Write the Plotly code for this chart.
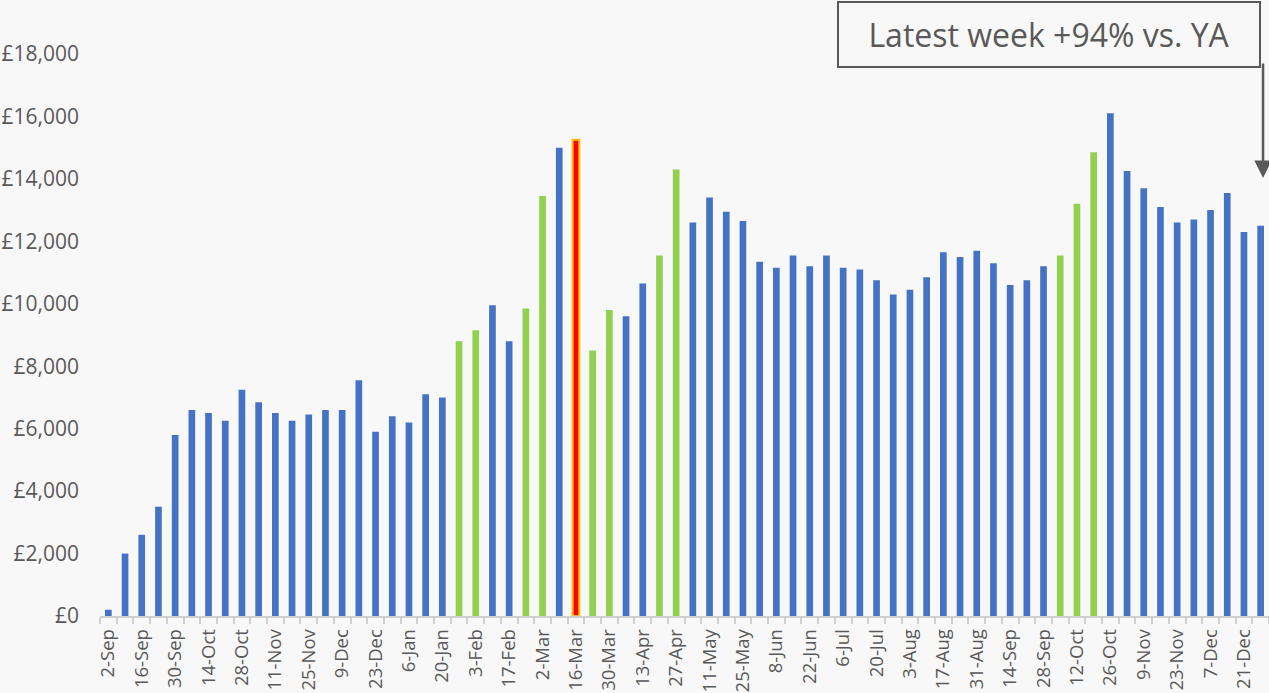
import plotly.graph_objects as go

weeks = [
    "2-Sep", "9-Sep", "16-Sep", "23-Sep", "30-Sep", "7-Oct", "14-Oct", "21-Oct", "28-Oct",
    "4-Nov", "11-Nov", "18-Nov", "25-Nov", "2-Dec", "9-Dec", "16-Dec", "23-Dec", "30-Dec",
    "6-Jan", "13-Jan", "20-Jan", "27-Jan", "3-Feb", "10-Feb", "17-Feb", "24-Feb",
    "2-Mar", "9-Mar", "16-Mar", "23-Mar", "30-Mar", "6-Apr", "13-Apr", "20-Apr", "27-Apr",
    "4-May", "11-May", "18-May", "25-May", "1-Jun", "8-Jun", "15-Jun", "22-Jun", "29-Jun",
    "6-Jul", "13-Jul", "20-Jul", "27-Jul", "3-Aug", "10-Aug", "17-Aug", "24-Aug", "31-Aug",
    "7-Sep", "14-Sep", "21-Sep", "28-Sep", "5-Oct", "12-Oct", "19-Oct", "26-Oct",
    "2-Nov", "9-Nov", "16-Nov", "23-Nov", "30-Nov", "7-Dec", "14-Dec", "21-Dec", "28-Dec",
]

sales = [
    200, 2000, 2600, 3500, 5800, 6600, 6500, 6250, 7250,
    6850, 6500, 6250, 6450, 6600, 6600, 7550, 5900, 6400,
    6200, 7100, 7000, 8800, 9150, 9950, 8800, 9850,
    13450, 15000, 15250, 8500, 9800, 9600, 10650, 11550, 14300,
    12600, 13400, 12950, 12650, 11350, 11150, 11550, 11200, 11550,
    11150, 11100, 10750, 10300, 10450, 10850, 11650, 11500, 11700,
    11300, 10600, 10750, 11200, 11550, 13200, 14850, 16100,
    14250, 13700, 13100, 12600, 12700, 13000, 13550, 12300, 12500,
]

# b = regular week, g = highlighted (green) week, r = key week (red)
week_type = [
    "b", "b", "b", "b", "b", "b", "b", "b", "b",
    "b", "b", "b", "b", "b", "b", "b", "b", "b",
    "b", "b", "b", "g", "g", "b", "b", "g",
    "g", "b", "r", "g", "g", "b", "b", "g", "g",
    "b", "b", "b", "b", "b", "b", "b", "b", "b",
    "b", "b", "b", "b", "b", "b", "b", "b", "b",
    "b", "b", "b", "b", "g", "g", "g", "b",
    "b", "b", "b", "b", "b", "b", "b", "b", "b",
]

tick_labels = [w if i % 2 == 0 else "" for i, w in enumerate(weeks)]
y_tick_values = [0, 2000, 4000, 6000, 8000, 10000, 12000, 14000, 16000, 18000]
y_tick_labels = ["£0", "£2,000", "£4,000", "£6,000", "£8,000", "£10,000",
                 "£12,000", "£14,000", "£16,000", "£18,000"]
annotation_text = "Latest week +94% vs. YA"

fill_map = {"b": "#4472C4", "g": "#92D050", "r": "#FF0000"}
line_map = {"b": "#4472C4", "g": "#92D050", "r": "#FFC000"}
lw_map = {"b": 0, "g": 0, "r": 2}

GREY = "#595959"
FONT = "Open Sans"

fig = go.Figure(
    go.Bar(
        x=weeks,
        y=sales,
        marker=dict(
            color=[fill_map[t] for t in week_type],
            line=dict(color=[line_map[t] for t in week_type],
                      width=[lw_map[t] for t in week_type]),
        ),
        hovertemplate="%{x}: £%{y:,}<extra></extra>",
    )
)

fig.update_layout(
    width=1269,
    height=693,
    margin=dict(l=100, r=0, t=54, b=77, autoexpand=False),
    paper_bgcolor="#f8f8f8",
    plot_bgcolor="rgba(0,0,0,0)",
    bargap=0.6,
    showlegend=False,
    font=dict(family=FONT, color=GREY, size=21),
)

fig.update_xaxes(
    type="category",
    tickmode="array",
    tickvals=weeks,
    ticktext=tick_labels,
    tickangle=-90,
    tickson="boundaries",
    ticks="outside",
    ticklen=6,
    tickwidth=1.5,
    tickcolor="#d0d0d0",
    showline=True,
    linecolor="#d0d0d0",
    linewidth=1.5,
    showgrid=False,
    automargin=False,
    ticklabelstandoff=4,
    tickfont=dict(family=FONT, size=18.5, color=GREY),
)

fig.update_yaxes(
    range=[0, 18000],
    tickmode="array",
    tickvals=y_tick_values,
    ticktext=y_tick_labels,
    showgrid=False,
    zeroline=False,
    showline=False,
    ticks="",
    automargin=False,
    ticklabelstandoff=20,
    tickfont=dict(family=FONT, size=21, color=GREY),
)

# call-out box
fig.add_annotation(
    xref="paper", yref="paper",
    x=0.8118, y=1.0347,
    xanchor="center", yanchor="middle",
    text=annotation_text,
    showarrow=False,
    font=dict(family=FONT, size=32, color=GREY),
    bordercolor=GREY, borderwidth=2, borderpad=2,
    width=416, height=59,
    bgcolor="rgba(0,0,0,0)",
)

# arrow from the box down to the latest week
fig.add_annotation(
    xref="paper", yref="paper",
    x=0.9949, y=0.7794,
    ax=0, ay=-116,
    text="",
    showarrow=True,
    arrowhead=2,
    arrowsize=1.4,
    arrowwidth=2.5,
    arrowcolor=GREY,
)

fig.write_html("out.html")
